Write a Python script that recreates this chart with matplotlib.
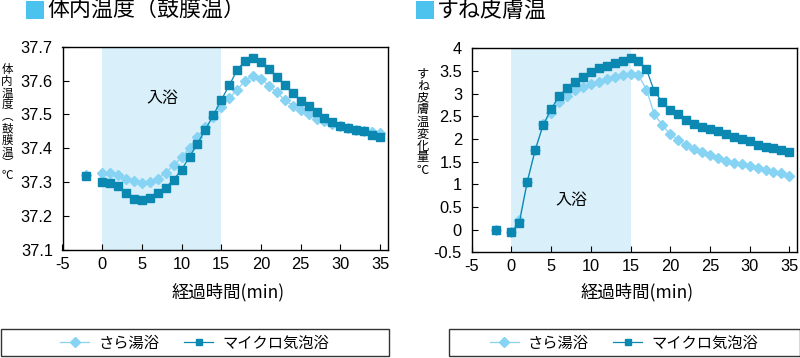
import numpy as np
import matplotlib
matplotlib.use("Agg")
import matplotlib.pyplot as plt
from matplotlib.patches import Rectangle
from matplotlib.ticker import FuncFormatter

plt.rcParams['font.family'] = ['Liberation Sans', 'Noto Sans CJK JP', 'DejaVu Sans']
plt.rcParams['axes.unicode_minus'] = False
CJK = ['Noto Sans CJK JP', 'DejaVu Sans']

# ---------------- data ----------------
minutes = list(range(0, 36))
baseline_minute = -2
bath_start, bath_end = 0, 15

series_names = ["さら湯浴", "マイクロ気泡浴"]

# Tympanic (body) temperature, deg C
tympanic_sara_base = 37.322
tympanic_micro_base = 37.318
tympanic_sara = [37.326, 37.326, 37.320, 37.311, 37.304, 37.298, 37.300, 37.311, 37.328, 37.351,
                 37.373, 37.402, 37.434, 37.463, 37.492, 37.521, 37.548, 37.573, 37.600, 37.615,
                 37.606, 37.584, 37.565, 37.543, 37.526, 37.512, 37.500, 37.488, 37.480, 37.473,
                 37.465, 37.459, 37.455, 37.450, 37.447, 37.445]
tympanic_micro = [37.302, 37.298, 37.288, 37.267, 37.251, 37.247, 37.253, 37.267, 37.284, 37.308,
                  37.337, 37.375, 37.414, 37.455, 37.498, 37.543, 37.586, 37.631, 37.659, 37.666,
                  37.655, 37.634, 37.611, 37.587, 37.563, 37.541, 37.524, 37.507, 37.490, 37.478,
                  37.467, 37.459, 37.455, 37.450, 37.440, 37.434]

# Shin skin temperature change, deg C
shin_sara_base = 0.0
shin_micro_base = 0.0
shin_sara = [-0.05, 0.22, 1.06, 1.76, 2.32, 2.57, 2.81, 2.94, 3.07, 3.15,
             3.22, 3.26, 3.32, 3.37, 3.41, 3.44, 3.41, 3.09, 2.54, 2.31,
             2.10, 1.98, 1.86, 1.78, 1.71, 1.65, 1.59, 1.51, 1.47, 1.44,
             1.40, 1.35, 1.31, 1.27, 1.24, 1.19]
shin_micro = [-0.06, 0.15, 1.06, 1.76, 2.31, 2.66, 2.94, 3.13, 3.26, 3.375,
              3.48, 3.56, 3.61, 3.68, 3.73, 3.78, 3.73, 3.54, 3.05, 2.82,
              2.64, 2.54, 2.41, 2.34, 2.27, 2.23, 2.18, 2.10, 2.05, 2.01,
              1.96, 1.875, 1.82, 1.80, 1.76, 1.71]

left_title = "体内温度（鼓膜温）"
right_title = "すね皮膚温"
left_ylabel_chars = ["体", "内", "温", "度", "︵", "鼓", "膜", "温", "︶", "℃"]
right_ylabel_chars = ["す", "ね", "皮", "膚", "温", "変", "化", "量", "℃"]
xlabel = "経過時間(min)"
bath_label = "入浴"

left_yticks = [37.1, 37.2, 37.3, 37.4, 37.5, 37.6, 37.7]
right_yticks = [-0.5, 0, 0.5, 1, 1.5, 2, 2.5, 3, 3.5, 4]
xticks = [-5, 0, 5, 10, 15, 20, 25, 30, 35]

# ---------------- style ----------------
LIGHT = "#86d3f3"
DARK = "#0a88b2"
SPAN = "#d9f0fa"
TITLE_SQ = "#4cc3ef"

W, H = 800, 358
fig = plt.figure(figsize=(8.0, 3.58), dpi=100)


def fx(px):
    return px / W


def fy(py):
    return 1 - py / H


def make_axes(left, right, top, bottom):
    return fig.add_axes([fx(left), fy(bottom), fx(right - left), (bottom - top) / H])


axL = make_axes(62.5, 388, 46.7, 250)
axR = make_axes(471.7, 797.3, 48.3, 252.3)


def draw(ax, sara, micro, sara_base, micro_base, ylim, yticks, bath_xy):
    ax.axvspan(bath_start, bath_end, color=SPAN, lw=0, zorder=0)
    l1, = ax.plot(minutes, sara, color=LIGHT, lw=0.9, marker='D', ms=5.6,
                  mfc=LIGHT, mec=LIGHT, zorder=3, label=series_names[0])
    ax.plot([baseline_minute], [sara_base], ls='none', marker='D', ms=5.6,
            mfc=LIGHT, mec=LIGHT, zorder=3)
    l2, = ax.plot(minutes, micro, color=DARK, lw=0.9, marker='s', ms=5.6,
                  mfc=DARK, mec=DARK, zorder=4, label=series_names[1])
    ax.plot([baseline_minute], [micro_base], ls='none', marker='s', ms=5.6,
            mfc=DARK, mec=DARK, zorder=4)
    ax.set_xlim(-5, 36)
    ax.set_ylim(*ylim)
    ax.set_xticks(xticks)
    ax.set_yticks(yticks)
    ax.yaxis.set_major_formatter(FuncFormatter(lambda v, p: f"{v:g}"))
    ax.xaxis.set_major_formatter(FuncFormatter(lambda v, p: f"{v:g}"))
    ax.tick_params(direction='in', length=4, width=0.8, labelsize=11.8,
                   colors='black', top=False, right=False)
    ax.tick_params(axis='y', pad=7)
    ax.tick_params(axis='x', pad=5)
    for s in ax.spines.values():
        s.set_linewidth(1.0)
        s.set_color('black')
    ax.text(bath_xy[0], bath_xy[1], bath_label, family=CJK, fontsize=11.5,
            ha='center', va='center', zorder=5)
    return l1, l2


hL = draw(axL, tympanic_sara, tympanic_micro, tympanic_sara_base, tympanic_micro_base,
          (37.1, 37.7), left_yticks, (7.6, 37.548))
hR = draw(axR, shin_sara, shin_micro, shin_sara_base, shin_micro_base,
          (-0.5, 4.0), right_yticks, (7.55, 0.64))

# x labels
fig.text(fx(228), fy(292), xlabel, family=CJK, fontsize=12.5, ha='center', va='center')
fig.text(fx(637), fy(292), xlabel, family=CJK, fontsize=12.5, ha='center', va='center')

# titles with colored squares
fig.patches.append(Rectangle((fx(26), fy(19)), fx(18), 18 / H, transform=fig.transFigure,
                             facecolor=TITLE_SQ, edgecolor='none'))
fig.text(fx(47), fy(10.5), left_title, family=CJK, fontsize=15.8, ha='left', va='center')
fig.patches.append(Rectangle((fx(416), fy(19)), fx(18), 18 / H, transform=fig.transFigure,
                             facecolor=TITLE_SQ, edgecolor='none'))
fig.text(fx(437), fy(10.5), right_title, family=CJK, fontsize=15.8, ha='left', va='center')

# vertical y labels (stacked characters, one text each)
fig.text(fx(7), fy(122.5), "\n".join(left_ylabel_chars), family=CJK, fontsize=8.3,
         ha='center', va='center', multialignment='center', linespacing=0.88)
fig.text(fx(423), fy(122), "\n".join(right_ylabel_chars), family=CJK, fontsize=8.8,
         ha='center', va='center', multialignment='center', linespacing=0.9)

# legend frames and legends
for (x0, x1), handles in (((0.5, 389), hL), ((448.5, 799.5), hR)):
    fig.patches.append(Rectangle((fx(x0), fy(356)), fx(x1 - x0), 27 / H,
                                 transform=fig.transFigure, facecolor='none',
                                 edgecolor='#333333', lw=1.0))
    fig.legend(handles=list(handles), loc='center', bbox_to_anchor=(fx((x0 + x1) / 2), fy(343)),
               ncol=2, frameon=False, prop={'family': CJK, 'size': 11},
               handlelength=1.9, handletextpad=0.6, columnspacing=1.6,
               numpoints=1, markerscale=0.85, borderpad=0.1)

fig.savefig("out.png", dpi=100)
